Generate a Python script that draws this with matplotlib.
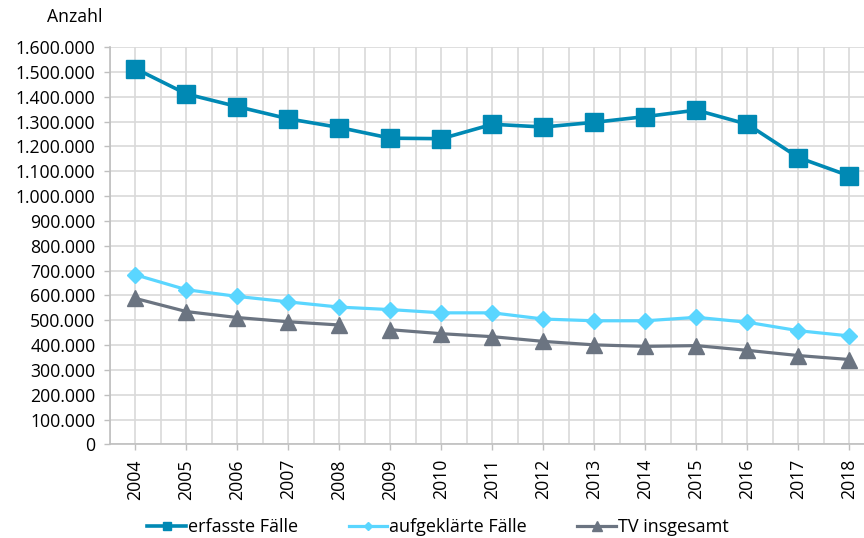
import matplotlib.pyplot as plt
from matplotlib.ticker import FuncFormatter, MultipleLocator

plt.rcParams['font.family'] = ['Open Sans', 'DejaVu Sans']

# Data
years = [2004, 2005, 2006, 2007, 2008, 2009, 2010, 2011, 2012, 2013, 2014, 2015, 2016, 2017, 2018]
erfasst = [1513000, 1411000, 1360000, 1311000, 1276000, 1233000, 1231000, 1289000,
           1278000, 1297000, 1320000, 1346000, 1289000, 1155000, 1081000]
aufgeklaert = [683000, 623000, 596000, 574000, 553000, 543000, 530000, 530000,
               505000, 498000, 498000, 512000, 492000, 458000, 437000]
tv = [588000, 535000, 511000, 494000, 481000, 462000, 446000, 434000,
      415000, 401000, 395000, 398000, 379000, 358000, 342000]

c_dark = "#0089B4"
c_light = "#5AD6FF"
c_gray = "#6B7481"
grid_c = "#D9D9D9"

fig = plt.figure(figsize=(8.64, 5.38), dpi=100)
ax = fig.add_axes([0.1273, 0.1738, 0.8854, 0.7388])

x = list(range(len(years)))

ax.plot(x, erfasst, color=c_dark, linewidth=2.6, marker="s", markersize=13, zorder=5)
ax.plot(x, aufgeklaert, color=c_light, linewidth=2.3, marker="D", markersize=8.5, zorder=4)
# TV series has a break between 2008 and 2009
ax.plot(x[:5], tv[:5], color=c_gray, linewidth=2.3, marker="^", markersize=12, zorder=3)
ax.plot(x[5:], tv[5:], color=c_gray, linewidth=2.3, marker="^", markersize=12, zorder=3)

# legend proxies
h1, = ax.plot([], [], color=c_dark, linewidth=2.6, marker="s", markersize=6, label="erfasste Fälle")
h2, = ax.plot([], [], color=c_light, linewidth=2.3, marker="D", markersize=4.5, label="aufgeklärte Fälle")
h3, = ax.plot([], [], color=c_gray, linewidth=2.3, marker="^", markersize=6.5, label="TV insgesamt")

ax.set_xlim(-0.5, 14.5)
ax.set_ylim(0, 1600000)
ax.yaxis.set_major_locator(MultipleLocator(100000))
ax.yaxis.set_major_formatter(FuncFormatter(lambda v, p: f"{int(v):,}".replace(",", ".")))
ax.set_xticks(x)
ax.set_xticklabels([str(y) for y in years], rotation=90)
ax.xaxis.set_minor_locator(MultipleLocator(1, offset=0.5))

ax.grid(True, which="major", color=grid_c, linewidth=1.2)
ax.grid(True, which="minor", axis="x", color=grid_c, linewidth=1.2)
ax.set_axisbelow(True)

for s in ["top", "right"]:
    ax.spines[s].set_visible(False)
for s in ["left", "bottom"]:
    ax.spines[s].set_color("#BFBFBF")
    ax.spines[s].set_linewidth(1.2)

ax.tick_params(axis="both", which="major", colors="#BFBFBF", labelcolor="#000000",
               labelsize=12.7, length=4.5, width=1)
ax.tick_params(axis="x", which="minor", length=0)
ax.tick_params(axis="y", pad=6)
ax.tick_params(axis="x", pad=6)

fig.text(0.054, 0.968, "Anzahl", fontsize=12.7, va="center", ha="left")

fig.legend(handles=[h1, h2, h3], loc="center", bbox_to_anchor=(0.507, 0.02), ncol=3,
           frameon=False, fontsize=13, handlelength=2.15, handletextpad=0.1,
           columnspacing=2.8)

fig.savefig("out.png", dpi=100)
